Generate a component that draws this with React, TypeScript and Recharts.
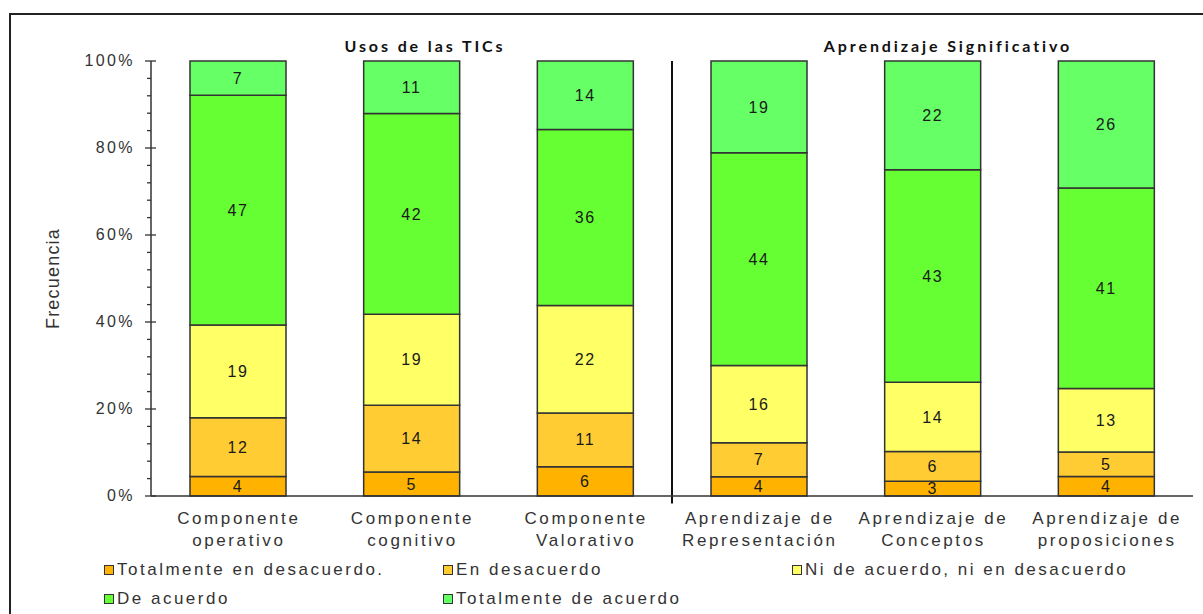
import React from "react";
import { BarChart, Bar, XAxis, YAxis, LabelList, Legend, ReferenceLine } from "recharts";

const categories = [
  "Componente\noperativo",
  "Componente\ncognitivo",
  "Componente\nValorativo",
  "Aprendizaje de\nRepresentación",
  "Aprendizaje de\nConceptos",
  "Aprendizaje de\nproposiciones",
];
const totalDesacuerdo = [4, 5, 6, 4, 3, 4];
const enDesacuerdo = [12, 14, 11, 7, 6, 5];
const niNi = [19, 19, 22, 16, 14, 13];
const deAcuerdo = [47, 42, 36, 44, 43, 41];
const totalAcuerdo = [7, 11, 14, 19, 22, 26];

const seriesNames = [
  "Totalmente en desacuerdo.",
  "En desacuerdo",
  "Ni de acuerdo, ni en desacuerdo",
  "De acuerdo",
  "Totalmente de acuerdo",
];
const seriesColors = ["#FFB300", "#FFCC33", "#FFFF66", "#66FF33", "#66FF66"];
const groupTitles = ["Usos de las TICs", "Aprendizaje Significativo"];
const yTicks = Array.from({ length: 26 }, (_, i) => i / 25);

const data = categories.map((c, i) => ({
  name: c,
  pos: i + 0.5,
  s0: totalDesacuerdo[i],
  s1: enDesacuerdo[i],
  s2: niNi[i],
  s3: deAcuerdo[i],
  s4: totalAcuerdo[i],
}));

const FONT = "'Liberation Sans', Arial, sans-serif";

const YTick = (props: any) => {
  const { x, y, payload } = props;
  const v = Math.round(payload.value * 100);
  const major = v % 20 === 0;
  return (
    <g>
      <line x1={x - (major ? 6 : 4)} x2={major ? x + 5 : x} y1={y} y2={y} stroke="#333" strokeWidth={1.3} />
      {major && (
        <text x={x - 16} y={y} dy={5} textAnchor="end" fill="#333" fontSize={16} fontFamily={FONT} style={{ letterSpacing: "2.4px" }}>
          {v}%
        </text>
      )}
    </g>
  );
};

const XTick = (props: any) => {
  const { x, y, payload } = props;
  const lines = String(payload.value).split("\n");
  return (
    <g>
      {lines.map((l, i) => (
        <text key={i} x={x + 1} y={y + 28 + i * 22} textAnchor="middle" fill="#333" fontSize={17} fontFamily={FONT} style={{ letterSpacing: "2.6px" }}>
          {l}
        </text>
      ))}
    </g>
  );
};

const legendCols = [104, 443, 792];

const LegendContent = (props: any) => {
  const payload = [...(props.payload || [])].sort(
    (a: any, b: any) => seriesNames.indexOf(a.value) - seriesNames.indexOf(b.value)
  );
  return (
    <div style={{ position: "relative", width: 1203, height: 60 }}>
      {payload.map((p: any, i: number) => {
        const col = i % 3;
        const row = Math.floor(i / 3);
        return (
          <div
            key={i}
            style={{
              position: "absolute",
              left: legendCols[col],
              top: 16 + row * 29 - 10,
              height: 20,
              display: "flex",
              alignItems: "center",
              whiteSpace: "nowrap",
            }}
          >
            <span
              style={{
                display: "inline-block",
                width: 8,
                height: 8,
                background: p.color,
                border: "1.5px solid #333",
                marginRight: 3,
              }}
            />
            <span style={{ fontFamily: FONT, fontSize: 17, color: "#333", letterSpacing: "2.5px" }}>{p.value}</span>
          </div>
        );
      })}
    </div>
  );
};

const keys = ["s0", "s1", "s2", "s3", "s4"];

export default function App() {
  return (
    <div style={{ position: "fixed", left: 0, top: 0, width: 1203, height: 614, overflow: "hidden", background: "#fff" }}>
      <div style={{ position: "absolute", left: 9, top: 13, width: 1300, height: 700, border: "2px solid #222", boxSizing: "border-box" }} />
      <div style={{ position: "absolute", left: 0, top: 0 }}>
        <BarChart
          width={1203}
          height={614}
          data={data}
          stackOffset="expand"
          margin={{ top: 61, right: 10, left: 0, bottom: 0 }}
          barSize={96}
        >
          <XAxis
            dataKey="name"
            height={58}
            axisLine={{ stroke: "#333", strokeWidth: 1.5 }}
            tickLine={false}
            tickSize={0}
            tickMargin={0}
            tick={<XTick />}
            interval={0}
          />
          <XAxis
            xAxisId="top"
            orientation="top"
            type="number"
            dataKey="pos"
            domain={[0, 6]}
            allowDataOverflow
            height={0}
            tick={false}
            tickLine={false}
            axisLine={{ stroke: "#555", strokeWidth: 1.5 }}
          />
          <YAxis
            domain={[0, 1]}
            ticks={yTicks}
            width={151}
            interval={0}
            axisLine={{ stroke: "#333", strokeWidth: 1.5 }}
            tickLine={false}
            tickSize={0}
            tickMargin={0}
            tick={<YTick />}
            label={{
              value: "Frecuencia",
              angle: -90,
              position: "insideLeft",
              offset: 0,
              dx: 53,
              dy: 0,
              style: { fontSize: 18, fill: "#333", fontFamily: FONT, letterSpacing: "1.2px", textAnchor: "middle" },
            }}
          />
          <YAxis
            yAxisId="right"
            orientation="right"
            domain={[0, 1]}
            width={0}
            tick={false}
            tickLine={false}
            axisLine={{ stroke: "#555", strokeWidth: 1.5 }}
          />
          {keys.map((k, i) => (
            <Bar
              key={k}
              dataKey={k}
              name={seriesNames[i]}
              stackId="a"
              fill={seriesColors[i]}
              stroke="#333"
              strokeWidth={1.5}
              isAnimationActive={false}
            >
              <LabelList
                dataKey={k}
                position="center"
                fill="#1a1a1a"
                fontSize={16}
                fontFamily={FONT}
                style={{ letterSpacing: "1.6px" }}
              />
            </Bar>
          ))}
          <ReferenceLine
            xAxisId="top"
            segment={[{ x: 3, y: -0.017 }, { x: 3, y: 1 }]}
            stroke="#111"
            strokeWidth={2}
            ifOverflow="visible"
          />
          <Legend verticalAlign="bottom" content={<LegendContent />} wrapperStyle={{ left: 0, width: 1203, height: 60 }} />
        </BarChart>
      </div>
      {groupTitles.map((t, i) => (
        <div
          key={t}
          style={{
            position: "absolute",
            left: i === 0 ? 425 : 948,
            top: 45,
            transform: "translate(-50%, -50%)",
            fontFamily: "Lato, 'Open Sans', sans-serif",
            fontWeight: 700,
            fontSize: 16,
            letterSpacing: "2.9px",
            color: "#111",
            whiteSpace: "nowrap",
          }}
        >
          {t}
        </div>
      ))}
    </div>
  );
}
